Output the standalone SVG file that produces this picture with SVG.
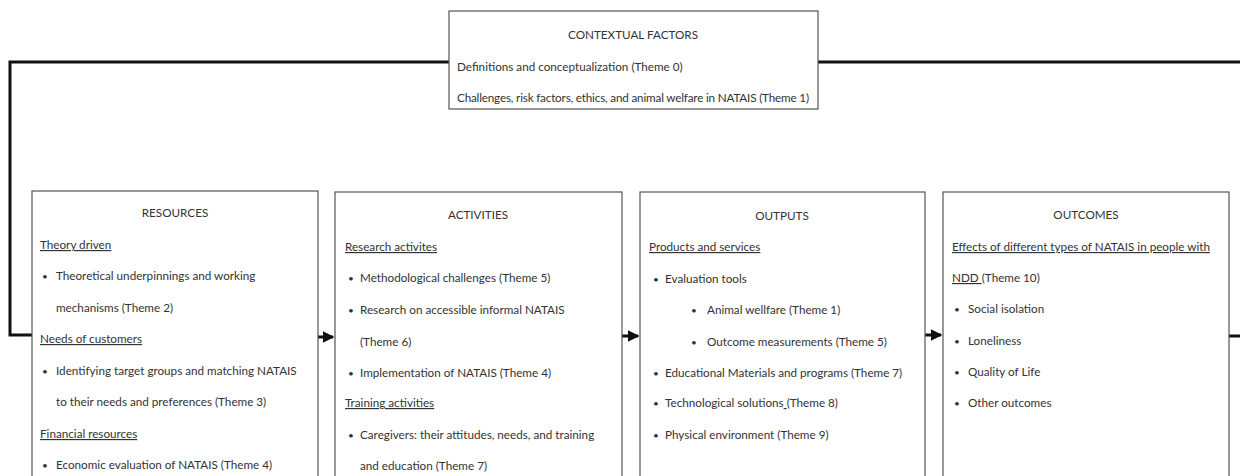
<svg xmlns="http://www.w3.org/2000/svg" width="1240" height="476" viewBox="0 0 1240 476">
<style>
.box{fill:#fff;stroke:#555;stroke-width:1.2}
.t{font-family:Lato,"Liberation Sans",sans-serif;font-size:11.7px;fill:#333}
.b{font-size:10px}
.c{text-anchor:middle}
.u{text-decoration:underline}
.con{fill:none;stroke:#111;stroke-width:3}
</style>
<defs>
<marker id="ah" markerWidth="4" markerHeight="4" refX="3.5" refY="2" orient="auto" markerUnits="strokeWidth">
<path d="M0,0 L4,2 L0,4 Z" fill="#111"/>
</marker>
</defs>
<rect width="1240" height="476" fill="#fff"/>
<g id="connectors">
<path class="con" d="M449,62 H10 V335 H32"/>
<path class="con" d="M818,62 H1240"/>
<path class="con" d="M1229,336 H1240"/>
<path class="con" d="M318,337 H333" marker-end="url(#ah)"/>
<path class="con" d="M622,336 H638" marker-end="url(#ah)"/>
<path class="con" d="M925,335 H941" marker-end="url(#ah)"/>
</g>
<g id="contextual">
<rect class="box" x="449" y="11" width="369" height="98"/>
<text class="t c" x="633" y="39">CONTEXTUAL FACTORS</text>
<text class="t" x="457" y="71">Definitions and conceptualization (Theme 0)</text>
<text class="t" x="457" y="102" textLength="352" lengthAdjust="spacing">Challenges, risk factors, ethics, and animal welfare in NATAIS (Theme 1)</text>
</g>
<g id="resources">
<rect class="box" x="32" y="191" width="286" height="300"/>
<text class="t c" x="175" y="217">RESOURCES</text>
<text class="t u" x="40" y="249">Theory driven</text>
<text class="t b" x="42" y="280">•</text><text class="t" x="56" y="280">Theoretical underpinnings and working</text>
<text class="t" x="56" y="312">mechanisms (Theme 2)</text>
<text class="t u" x="40" y="343">Needs of customers</text>
<text class="t b" x="42" y="375">•</text><text class="t" x="56" y="375">Identifying target groups and matching NATAIS</text>
<text class="t" x="56" y="406">to their needs and preferences (Theme 3)</text>
<text class="t u" x="40" y="438">Financial resources</text>
<text class="t b" x="42" y="469">•</text><text class="t" x="56" y="469">Economic evaluation of NATAIS (Theme 4)</text>
</g>
<g id="activities">
<rect class="box" x="335" y="192" width="287" height="300"/>
<text class="t c" x="478" y="219">ACTIVITIES</text>
<text class="t u" x="345" y="251">Research activites</text>
<text class="t b" x="348" y="282">•</text><text class="t" x="360" y="282">Methodological challenges (Theme 5)</text>
<text class="t b" x="348" y="314">•</text><text class="t" x="360" y="314">Research on accessible informal NATAIS</text>
<text class="t" x="360" y="346">(Theme 6)</text>
<text class="t b" x="348" y="377">•</text><text class="t" x="360" y="377">Implementation of NATAIS (Theme 4)</text>
<text class="t u" x="345" y="407">Training activities</text>
<text class="t b" x="348" y="439">•</text><text class="t" x="360" y="439">Caregivers: their attitudes, needs, and training</text>
<text class="t" x="360" y="470">and education (Theme 7)</text>
</g>
<g id="outputs">
<rect class="box" x="640" y="192" width="285" height="300"/>
<text class="t c" x="782" y="220">OUTPUTS</text>
<text class="t u" x="649" y="251">Products and services</text>
<text class="t b" x="653" y="283">•</text><text class="t" x="665" y="283">Evaluation tools</text>
<text class="t b" x="691" y="314">•</text><text class="t" x="707" y="314">Animal wellfare (Theme 1)</text>
<text class="t b" x="691" y="346">•</text><text class="t" x="707" y="346">Outcome measurements (Theme 5)</text>
<text class="t b" x="653" y="377">•</text><text class="t" x="665" y="377">Educational Materials and programs (Theme 7)</text>
<text class="t b" x="653" y="407">•</text><text class="t" x="665" y="407">Technological solutions<tspan class="u"> </tspan>(Theme 8)</text>
<text class="t b" x="653" y="439">•</text><text class="t" x="665" y="439">Physical environment (Theme 9)</text>
</g>
<g id="outcomes">
<rect class="box" x="943" y="192" width="286" height="300"/>
<text class="t c" x="1086" y="219">OUTCOMES</text>
<text class="t u" x="952" y="251">Effects of different types of NATAIS in people with</text>
<text class="t" x="952" y="282"><tspan class="u">NDD </tspan>(Theme 10)</text>
<text class="t b" x="954" y="313">•</text><text class="t" x="968" y="313">Social isolation</text>
<text class="t b" x="954" y="345">•</text><text class="t" x="968" y="345">Loneliness</text>
<text class="t b" x="954" y="376">•</text><text class="t" x="968" y="376">Quality of Life</text>
<text class="t b" x="954" y="407">•</text><text class="t" x="968" y="407">Other outcomes</text>
</g>
</svg>
